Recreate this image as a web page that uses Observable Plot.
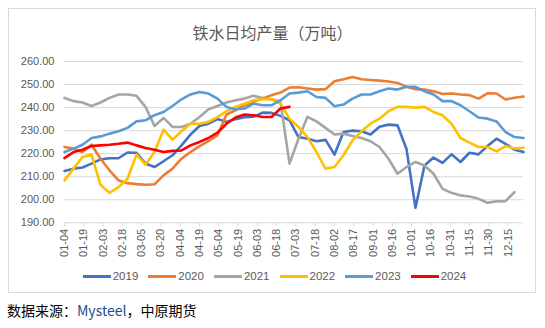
<!DOCTYPE html>
<html>
<head>
<meta charset="utf-8">
<script src="https://cdn.jsdelivr.net/npm/d3@7"></script>
<script src="https://cdn.jsdelivr.net/npm/@observablehq/plot@0.6"></script>
<style>
  body { margin:0; width:545px; height:328px; position:relative; background:#fff; overflow:hidden; }
  #frame { position:absolute; left:8px; top:8px; width:528px; height:285px; border:1px solid #d9d9d9; box-sizing:border-box; }
  #title { position:absolute; top:20px; left:0; width:545px; text-align:center; font:16px "Noto Sans CJK SC", sans-serif; color:#595959; }
  #chart { position:absolute; left:0; top:50px; }
  #legend { position:absolute; top:270px; left:2px; width:545px; display:flex; justify-content:center; font:11.5px "Liberation Sans", Arial, sans-serif; color:#595959; }
  .item { display:flex; align-items:center; margin:0 5px; }
  .sw { width:28px; height:3px; margin-right:2px; }
  #caption { position:absolute; left:7px; top:300px; font:14px "Noto Sans CJK SC", sans-serif; color:#000; }
</style>
</head>
<body>
<div id="frame"></div>
<div id="title">铁水日均产量（万吨）</div>
<div id="chart"></div>
<div id="legend"></div>
<div id="caption">数据来源：<span style="color:#1E4E8C">Mysteel</span>，中原期货</div>
<script>
const years = ["2019", "2020", "2021", "2022", "2023", "2024"];
const colors = ["#4472C4", "#ED7D31", "#A5A5A5", "#FFC000", "#5B9BD5", "#FF0000"];
const tickLabels = ["01-04","01-19","02-03","02-18","03-05","03-20","04-04","04-19","05-04","05-19","06-03","06-18",
  "07-03","07-18","08-02","08-17","09-01","09-16","10-01","10-16","10-31","11-15","11-30","12-15"];
const yTicks = [190, 200, 210, 220, 230, 240, 250, 260];

// weekly values, first week = 01-04
const s2019 = [212.5,213.5,214,215.7,217.5,218,218,220.5,220.4,215.7,214.2,216.7,219.3,
  223.6,228.3,232,233,235,233.8,235,235.8,236,237.8,237.7,236.4,234.5,
  227.2,226.5,225.4,226,219.6,229.4,230,229.7,228.3,231.7,232.6,232.3,222,
  196.5,214.9,218.3,216,219.7,216.4,220.4,219.7,223.3,226.5,224.3,221.7,220.7];
const s2020 = [222.9,222.2,220.7,223.9,217.8,212.8,208.4,207.2,206.8,206.5,206.7,210.6,213.5,
  217.8,220.7,223.3,225.4,228,237,238.8,241,242.5,243.9,245.4,246.5,248.7,
  248.8,248.3,247.8,248,251.4,252.3,253.3,252.3,252,251.7,251.3,250.7,249,
  248,247.8,247.1,245.9,246.1,245.7,245.4,243.9,246.2,246.1,243.5,244.3,244.8];
const s2021 = [244.2,242.8,242.2,240.7,242.2,244.2,245.7,245.7,245.1,240.3,232,235.5,231.6,
  231.6,233,235.9,239.3,240.7,242.2,243.2,243.9,245.1,244.2,243.6,242.5,215.7,
  226.5,236,234,231.2,228.3,228.7,227.7,226.8,225.4,222.9,217.8,211.3,214.2,
  216.4,214.9,211.3,204.8,203,201.9,201.4,200.4,198.7,199.3,199.4,203.3];
const s2022 = [208.4,213.5,218.6,219.6,206.5,203,205.5,209.1,219.6,215.2,220.7,230.4,226.1,
  229.7,233,233,233.8,235.9,238.4,240.3,241.7,243.2,243.6,243.6,241.7,235.2,
  231.6,227.2,220.7,213.5,214.2,219.3,225.8,229.7,233,235.2,238.4,240.3,240.3,
  240,240.3,238.1,236.7,233,226.8,224.8,222.9,222.9,221,223.3,222.2,222.6];
const s2023 = [220.7,222.2,223.9,226.8,227.5,228.7,229.7,231.2,234,234.5,236.7,238.1,240.7,
  243.6,245.7,246.8,246.1,243.9,240.3,239.3,239.6,241.7,241,241,243.2,246.1,
  246.5,247.1,244.6,244.2,240.6,241.3,243.9,245.7,245.7,247.1,248.3,247.8,249,
  249,247.1,245.7,242.8,242.8,241,238.4,235.7,235.2,234,229.4,227.2,226.8];
const s2024 = [218.1,220.7,221.7,223.3,223.6,223.9,224.3,224.8,223.6,222.5,221.7,220.7,221.2,
  221.4,223.6,225.1,226.8,229.1,233,235.7,237,236.7,235.9,235.9,239.6,240.3];
const series = [s2019, s2020, s2021, s2022, s2023, s2024];

const start = Date.UTC(2019, 0, 4);
const rows = [];
series.forEach((vals, k) => vals.forEach((v, i) => rows.push({year: years[k], date: new Date(start + i * 7 * 864e5), value: v})));
const tickDates = tickLabels.map(s => new Date(Date.UTC(2019, +s.slice(0, 2) - 1, +s.slice(3))));
const fmt = d3.utcFormat("%m-%d");

const chart = Plot.plot({
  width: 545,
  height: 215,
  marginLeft: 64,
  marginRight: 22,
  marginTop: 11,
  marginBottom: 42.7,
  style: {fontFamily: "'Liberation Sans', Arial, sans-serif", fontSize: "11px", color: "#595959", background: "transparent"},
  x: {type: "utc", domain: [new Date(start), new Date(Date.UTC(2019, 11, 27))]},
  y: {domain: [190, 260]},
  color: {domain: years, range: colors},
  marks: [
    Plot.gridY(yTicks.filter(t => t > 190), {stroke: "#d9d9d9", strokeOpacity: 1}),
    Plot.ruleY([190], {stroke: "#d9d9d9"}),
    Plot.axisY(yTicks, {tickSize: 0, tickPadding: 10, tickFormat: d3.format(".2f"), fill: "#595959", fontSize: 11, label: null}),
    Plot.axisX(tickDates, {tickSize: 4, tickPadding: 2, tickRotate: -90, tickFormat: fmt, stroke: "#d9d9d9", fill: "#595959", fontSize: 11, label: null}),
    Plot.line(rows, {x: "date", y: "value", z: "year", stroke: "year", strokeWidth: 2.6, strokeLinejoin: "round", strokeLinecap: "round"})
  ]
});
document.getElementById("chart").appendChild(chart);

const legend = document.getElementById("legend");
years.forEach((y, k) => {
  const it = document.createElement("div");
  it.className = "item";
  it.innerHTML = `<div class="sw" style="background:${colors[k]}"></div><span>${y}</span>`;
  legend.appendChild(it);
});
</script>
</body>
</html>
